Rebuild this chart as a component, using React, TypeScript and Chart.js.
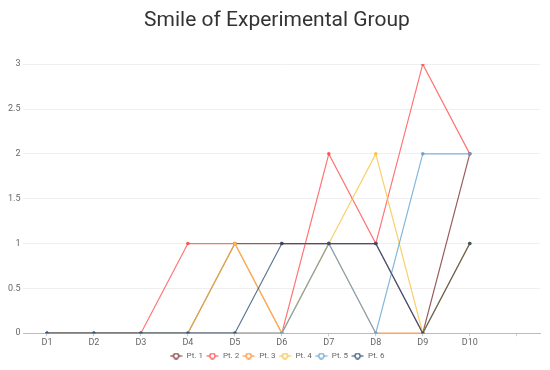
import { useEffect, useRef } from 'react';
import { Chart, registerables } from 'chart.js';

Chart.register(...registerables);

const categories = ['D1', 'D2', 'D3', 'D4', 'D5', 'D6', 'D7', 'D8', 'D9', 'D10', ''];
const seriesNames = ['Pt. 1', 'Pt. 2', 'Pt. 3', 'Pt. 4', 'Pt. 5', 'Pt. 6'];
const pt1 = [0, 0, 0, 0, 1, 1, 1, 1, 0, 2];
const pt2 = [0, 0, 0, 1, 1, 0, 2, 1, 3, 2];
const pt3 = [0, 0, 0, 0, 0, 0, 1, 0, 0, 1];
const pt4 = [0, 0, 0, 0, 1, 0, 1, 2, 0, 1];
const pt5 = [0, 0, 0, 0, 0, 0, 1, 0, 2, 2];
const pt6 = [0, 0, 0, 0, 0, 1, 1, 1, 0, 1];
const seriesValues = [pt1, pt2, pt3, pt4, pt5, pt6];
const seriesColors = ['#7d2f2f', '#ff4d4d', '#ff8a33', '#f7c23e', '#62a3d1', '#2d4d75'];
const yTickMin = 0;
const yTickMax = 3;
const yTickStep = 0.5;
const title = 'Smile of Experimental Group';

function hexToRgba(hex: string, a: number) {
  const n = parseInt(hex.slice(1), 16);
  return `rgba(${(n >> 16) & 255},${(n >> 8) & 255},${n & 255},${a})`;
}

function makeIcon(color: string) {
  const c = document.createElement('canvas');
  c.width = 13;
  c.height = 7;
  const ctx = c.getContext('2d')!;
  ctx.strokeStyle = color;
  ctx.lineWidth = 1.1;
  ctx.beginPath();
  ctx.moveTo(0.5, 3.5);
  ctx.lineTo(12.5, 3.5);
  ctx.stroke();
  ctx.beginPath();
  ctx.arc(6.5, 3.5, 2.6, 0, Math.PI * 2);
  ctx.fillStyle = '#ffffff';
  ctx.fill();
  ctx.stroke();
  return c;
}

export default function App() {
  const ref = useRef<HTMLCanvasElement>(null);
  useEffect(() => {
    document.documentElement.style.overflow = 'hidden';
    document.body.style.overflow = 'hidden';
    if (!ref.current) return;
    const icons = seriesColors.map(makeIcon);
    const chart = new Chart(ref.current, {
      type: 'line',
      data: {
        labels: categories,
        datasets: seriesNames.map((name, i) => ({
          label: name,
          data: seriesValues[i],
          order: seriesNames.length - i,
          borderColor: hexToRgba(seriesColors[i], 0.78),
          backgroundColor: seriesColors[i],
          borderWidth: 1.2,
          pointRadius: 1.8,
          pointHoverRadius: 0,
          pointBorderWidth: 0,
          pointHoverBorderWidth: 0,
          pointBackgroundColor: hexToRgba(seriesColors[i], 0.9),
          tension: 0,
          fill: false,
        })),
      },
      options: {
        animation: false,
        responsive: true,
        maintainAspectRatio: false,
        layout: { padding: { left: -3, right: -7, top: 0, bottom: 0 } },
        plugins: {
          title: {
            display: true,
            text: title,
            color: '#333333',
            font: { family: 'Roboto', size: 21, weight: 'normal' },
            padding: { top: 0, bottom: 31 },
          },
          legend: {
            position: 'bottom',
            labels: {
              usePointStyle: true,
              pointStyleWidth: 13,
              boxHeight: 7,
              padding: 3,
              color: '#666666',
              font: { family: 'Roboto', size: 8 },
              sort: (a: any, b: any) => a.datasetIndex - b.datasetIndex,
              generateLabels: (ch: any) => {
                const base = Chart.defaults.plugins.legend.labels.generateLabels(ch);
                return base.map((l: any) => ({ ...l, pointStyle: icons[l.datasetIndex] }));
              },
            },
          },
          tooltip: { enabled: false },
        },
        scales: {
          x: {
            offset: true,
            grid: { display: true, drawOnChartArea: false, drawTicks: true, tickLength: 3, color: '#cccccc' },
            border: { display: true, color: '#bbbbbb' },
            ticks: { color: '#666666', font: { family: 'Roboto', size: 9 }, padding: 1, maxRotation: 0, autoSkip: false },
          },
          y: {
            min: yTickMin,
            max: yTickMax,
            grid: { color: '#efefef', drawTicks: false },
            border: { display: false },
            ticks: {
              stepSize: yTickStep,
              color: '#666666',
              font: { family: 'Roboto', size: 9 },
              padding: 3,
              callback: (v: any) => String(Number(v)),
            },
          },
        },
      },
    });
    return () => chart.destroy();
  }, []);
  return (
    <div style={{ position: 'relative', width: '534px', height: '362px' }}>
      <canvas ref={ref} />
    </div>
  );
}
